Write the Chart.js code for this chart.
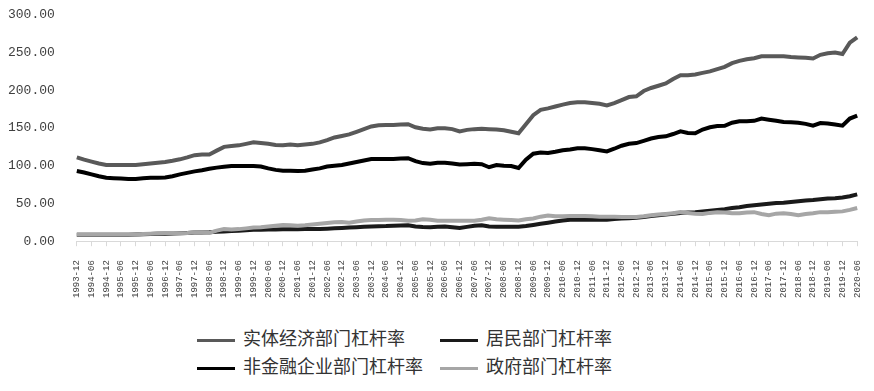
<!DOCTYPE html>
<html>
<head>
<meta charset="utf-8">
<script src="https://cdn.jsdelivr.net/npm/chart.js@4/dist/chart.umd.min.js"></script>
<style>
body { margin: 0; background: #fff; overflow: hidden; }
#wrap { position: relative; width: 874px; height: 391px; overflow: hidden; }
#myChart { position: absolute; left: -18px; top: -15px; }
.lg { position: absolute; font-family: "Noto Sans CJK SC"; font-size: 18px; color: #333; line-height: 20px; white-space: nowrap; }
.lg span { display: inline-block; width: 38px; height: 3px; vertical-align: middle; margin-right: 8px; }
</style>
</head>
<body>
<div id="wrap">
  <canvas id="myChart" width="900" height="327"></canvas>
  <div class="lg" style="left:197px;top:327px"><span style="background:#595959"></span>实体经济部门杠杆率</div>
  <div class="lg" style="left:440px;top:327px"><span style="background:#1a1a1a"></span>居民部门杠杆率</div>
  <div class="lg" style="left:197px;top:355px"><span style="background:#000"></span>非金融企业部门杠杆率</div>
  <div class="lg" style="left:440px;top:355px"><span style="background:#a6a6a6"></span>政府部门杠杆率</div>
</div>
<script>
// quarters 1993-12 .. 2020-06
labels = [];
for (y = 1993; y <= 2020; y++) {
  ["03", "06", "09", "12"].forEach(function(m) {
    var s = y + "-" + m;
    if (s >= "1993-12" && s <= "2020-06") labels.push(s);
  });
}

// 实体经济部门杠杆率
realEconomy = [111, 108, 105.5, 103, 101, 101, 101, 101, 101, 102,
  103, 104, 105, 106.5, 108.5, 111, 114, 115, 115, 120,
  125, 126, 127, 129, 131, 130, 129, 127.5, 127, 128,
  127, 128, 129, 131, 134, 137.5, 139.5, 141.5, 145, 148.5,
  152, 153.5, 154, 154, 154.5, 155, 151, 149, 148, 149.5,
  149.5, 148.5, 145.5, 147.5, 148.5, 149, 148.5, 148, 147, 145,
  143, 155, 167, 174, 176, 178.5, 181, 183, 184, 184,
  183, 182, 180, 183, 187, 191, 192, 199, 203, 206,
  209, 215, 220, 220, 221, 223, 225, 228, 231, 236,
  239, 241, 242.5, 245, 245, 245, 245, 244, 243.5, 243,
  242, 247, 249, 250, 248, 263, 270];

// 非金融企业部门杠杆率
nonFinancial = [93, 91, 88.5, 86, 84, 83.5, 83, 82.5, 82.5, 83.5,
  84, 84, 84.5, 86, 88.5, 90.5, 92.5, 94, 96, 97.5,
  98.5, 99.5, 99.5, 99.5, 99.5, 99, 96.5, 94.5, 93.5, 93.5,
  93, 93.5, 95, 96.5, 99, 100, 101, 103, 105, 107,
  109, 109, 109, 109, 109.5, 110, 106, 103.5, 102.5, 104,
  104, 103, 101.5, 102, 102.5, 102, 98, 101, 100, 99.5,
  97, 108, 116, 117.5, 117, 118.5, 120.5, 121.5, 123, 123,
  122, 120.5, 119, 122.5, 126.5, 129, 130, 133, 136, 138,
  139, 142, 145.5, 143.5, 143, 148, 151, 152.5, 153, 157,
  159, 159, 159.5, 162.5, 161, 159.5, 158, 157.5, 157, 155.5,
  153, 156.5, 156, 154.5, 153, 162.5, 166.5];

// 居民部门杠杆率
household = [8.5, 8.5, 8.5, 8.5, 8.5, 8.5, 8.5, 8.7, 9, 9.2,
  9.5, 9.8, 10, 10.3, 10.6, 11, 11.5, 11.5, 11.8, 12.5,
  13, 13.5, 14, 14.5, 15, 15.3, 15.5, 15.6, 15.8, 15.8,
  15.8, 16, 16, 16.2, 16.5, 17, 17.5, 18, 18.5, 19,
  19.5, 19.8, 20, 20.5, 20.8, 21, 19.5, 18.8, 18.5, 19,
  19.5, 18.5, 17.5, 19, 20.5, 21, 19.5, 19, 19, 19,
  19, 20, 21.5, 23, 24.5, 26, 27.5, 28.5, 28.5, 28.5,
  28.5, 28.5, 28.5, 29.5, 30, 30.5, 31, 32, 33.5, 34.5,
  35.5, 36.5, 37.5, 38, 38.5, 39.5, 40.5, 41.5, 42.5, 44,
  45, 46.5, 47.5, 48.5, 49.5, 50.5, 51, 52, 53, 54,
  54.5, 55.5, 56.5, 57, 58, 59.5, 62];

// 政府部门杠杆率
government = [9, 9, 9, 9, 9, 9, 9, 9, 9, 9.5,
  10, 10.5, 11, 11, 10.5, 11, 12, 11.5, 11, 14,
  16, 15.5, 16, 17, 18, 18.5, 19.5, 20.5, 21.5, 21,
  20.5, 21, 22, 23, 24, 25, 25.5, 24.5, 26, 27.5,
  28, 28, 28.5, 28.5, 28, 27, 27.5, 29, 28.5, 27,
  27, 27, 27, 27, 27, 28.5, 30.5, 29, 28.5, 28,
  27.5, 29, 30, 32.5, 34, 33, 33, 33.5, 33.5, 33.5,
  33, 32.5, 32.5, 32.5, 32, 32, 32, 33, 34.5, 35.5,
  36, 37, 38.5, 37.5, 36.5, 36, 37.5, 38.5, 38, 37,
  37, 38, 38.5, 36, 34.5, 36.5, 37, 36, 34.5, 36,
  37, 38.5, 38.5, 39, 39.5, 41.5, 44];

yTicks = [0, 50, 100, 150, 200, 250, 300];

function series(label, data, color) {
  return {
    label: label,
    data: data,
    borderColor: color,
    backgroundColor: color,
    borderWidth: 4,
    pointRadius: 0,
    tension: 0,
    fill: false
  };
}

const config = {
  type: 'line',
  data: {
    labels: labels,
    datasets: [
      series('政府部门杠杆率', government, '#a6a6a6'),
      series('居民部门杠杆率', household, '#1a1a1a'),
      series('非金融企业部门杠杆率', nonFinancial, '#000000'),
      series('实体经济部门杠杆率', realEconomy, '#595959')
    ]
  },
  options: {
    responsive: false,
    animation: false,
    layout: { padding: { left: 4, right: 17, top: 6, bottom: 0 } },
    plugins: {
      legend: { display: false },
      tooltip: { enabled: false }
    },
    scales: {
      x: {
        grid: {
          drawOnChartArea: false,
          drawTicks: true,
          tickLength: 5,
          color: function(ctx) { return ctx.index % 2 === 0 ? '#d9d9d9' : 'rgba(0,0,0,0)'; }
        },
        border: { color: '#d9d9d9' },
        ticks: {
          autoSkip: false,
          maxRotation: 90,
          minRotation: 90,
          padding: 14,
          color: '#404040',
          font: { family: 'Liberation Mono', size: 9 },
          callback: function(v, i) { return i % 2 === 0 ? labels[i] : ''; }
        }
      },
      y: {
        min: 0,
        max: 300,
        afterBuildTicks: function(axis) { axis.ticks = yTicks.map(function(v) { return { value: v }; }); },
        grid: { display: false, drawTicks: false },
        border: { display: false },
        ticks: {
          padding: 22,
          color: '#404040',
          font: { family: 'Liberation Mono', size: 13 },
          callback: function(v) { return v.toFixed(2); }
        }
      }
    }
  }
};

const myChart = new Chart(document.getElementById('myChart'), config);
</script>
</body>
</html>
